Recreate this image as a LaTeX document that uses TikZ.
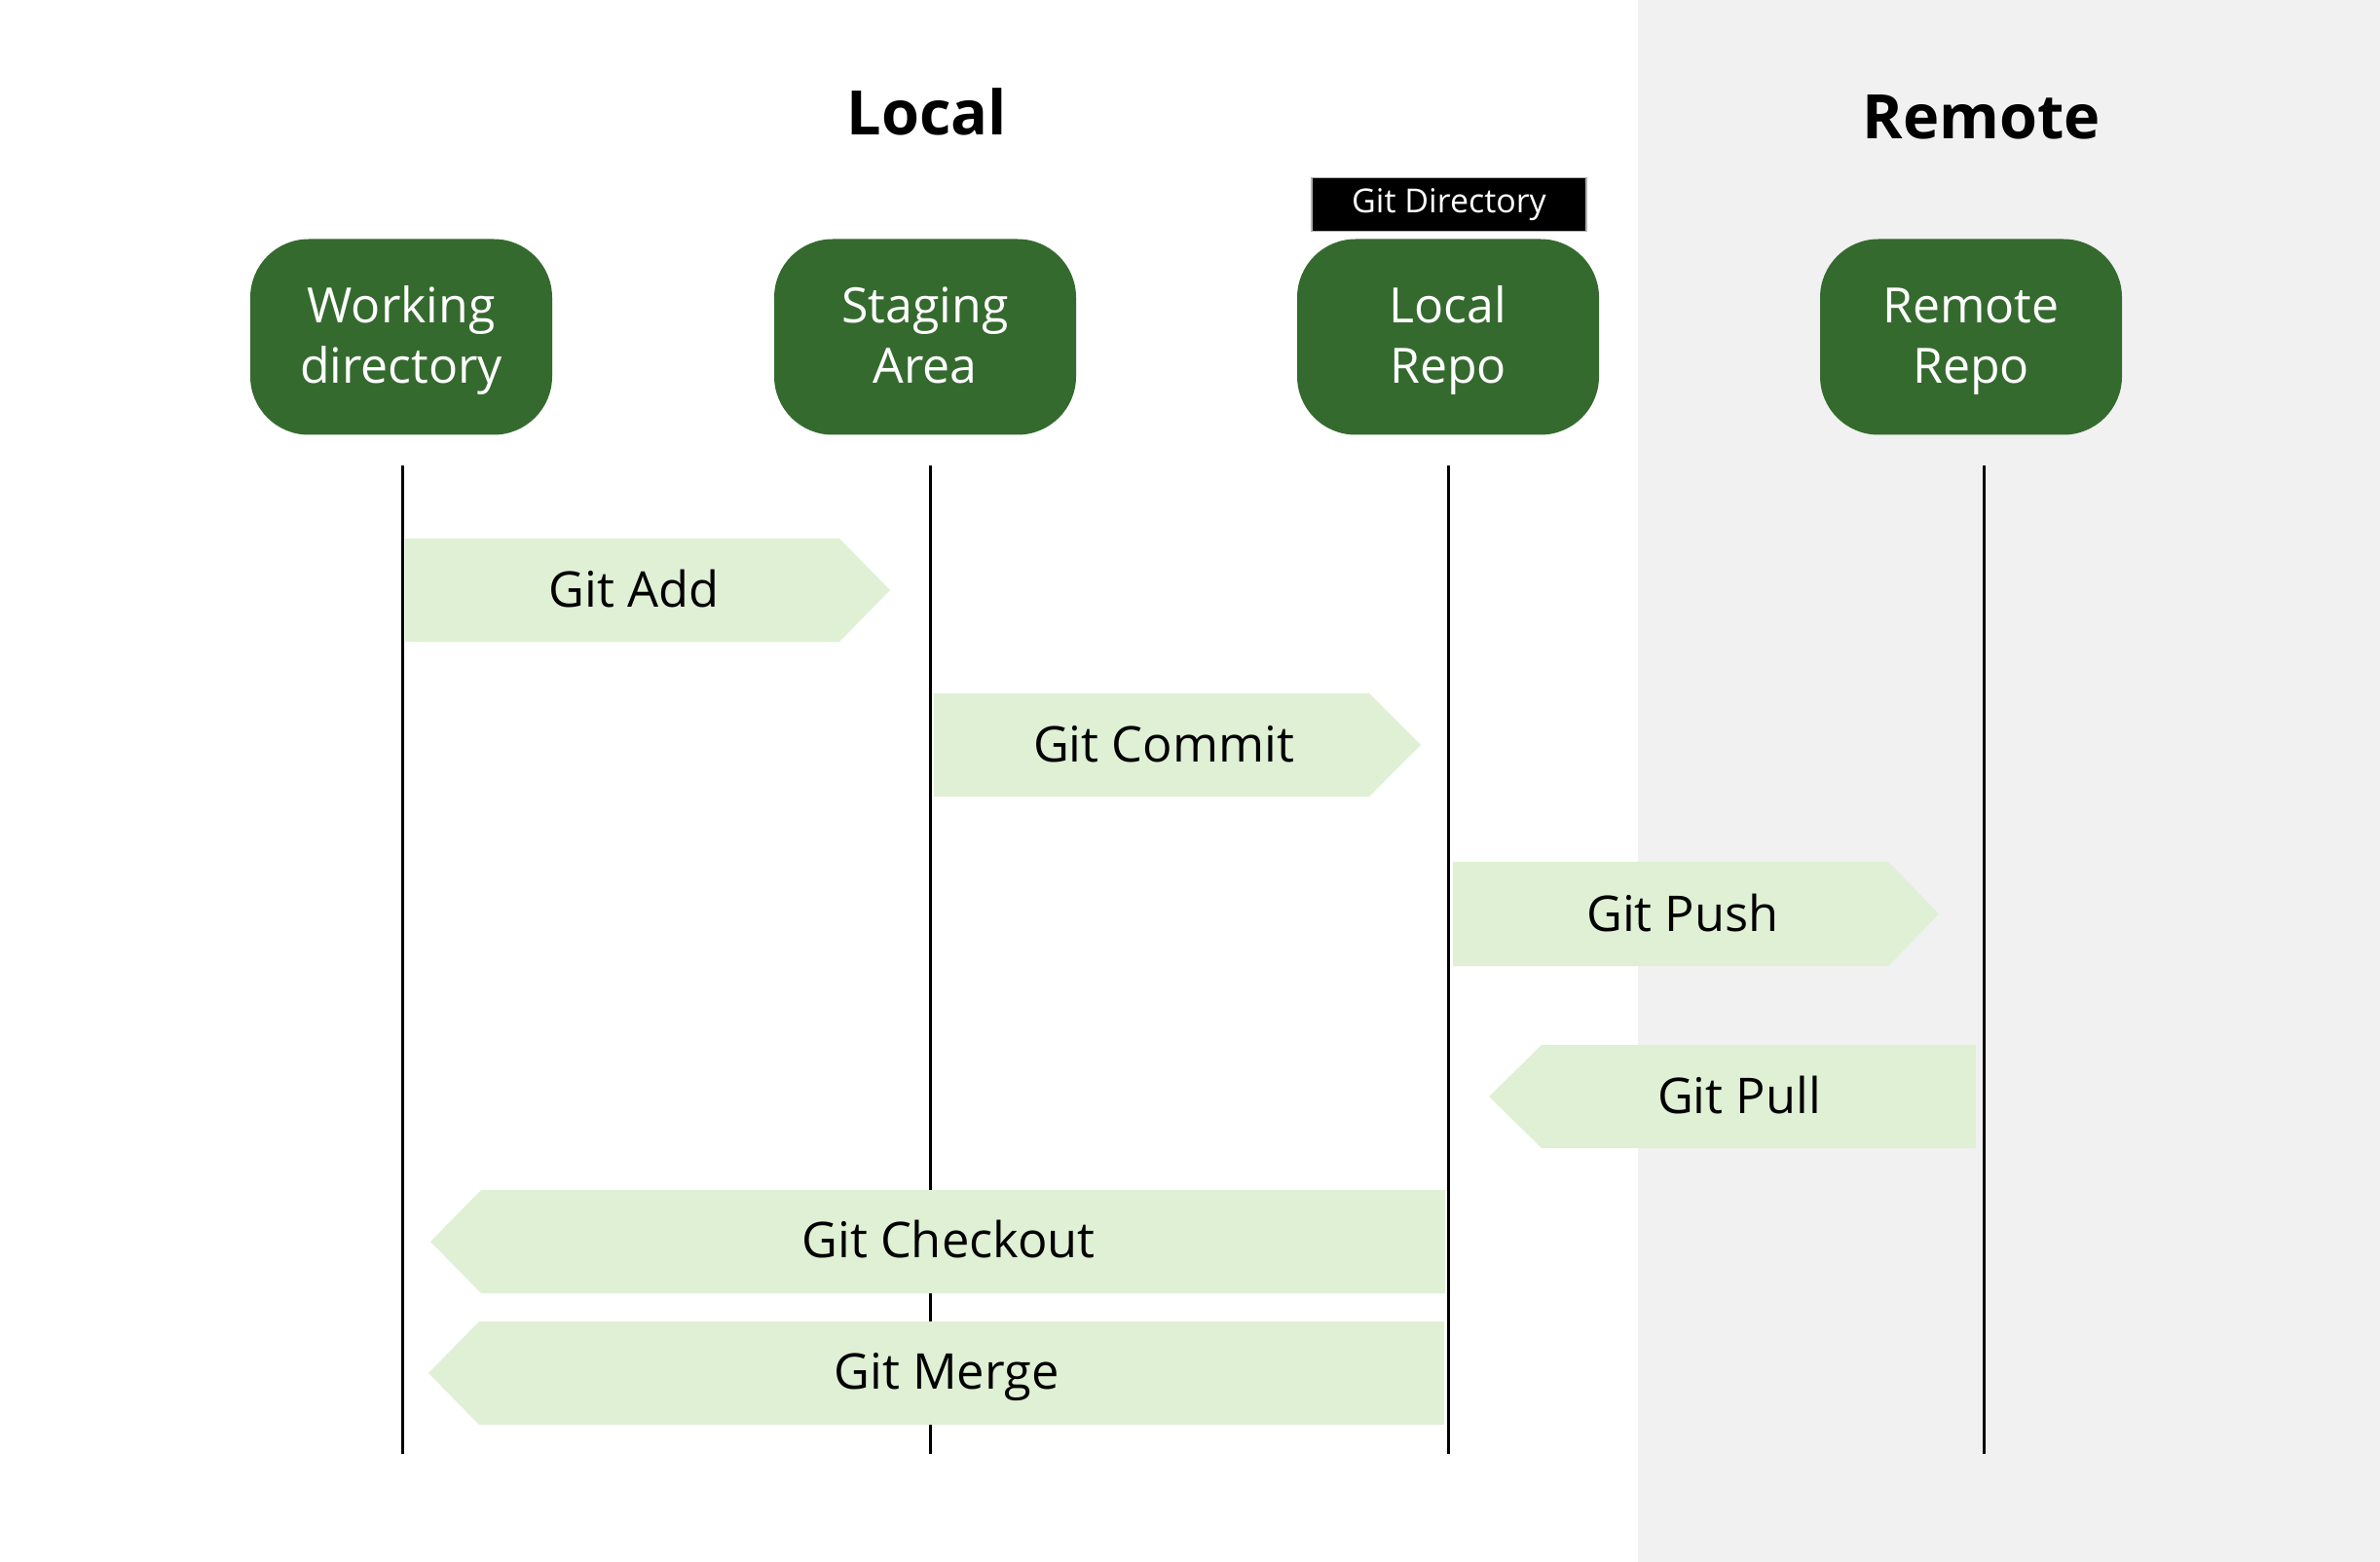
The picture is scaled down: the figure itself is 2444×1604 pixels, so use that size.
\documentclass[tikz,border=0pt]{standalone}
\usepackage{fontspec}
\setmainfont{Open Sans}
\definecolor{bggray}{HTML}{F1F1F1}
\definecolor{repogreen}{HTML}{356A2F}
\definecolor{arrowgreen}{HTML}{DFF0D5}
\newcommand{\toplinestrut}{\rule{0pt}{25.7pt}}
\tikzset{
  repo/.style={fill=repogreen, text=white, rounded corners=30pt, minimum width=155pt, minimum height=100.5pt, align=center, inner sep=0pt, font=\fontsize{25}{31}\selectfont},
  lifeline/.style={line width=1.5pt, black},
  cmdshape/.style={fill=arrowgreen},
  cmdtext/.style={anchor=base, font=\fontsize{25.3}{30}\selectfont, inner sep=0pt},
  title/.style={anchor=base, font=\fontsize{31.5}{36}\selectfont\bfseries, inner sep=0pt},
  gitdir/.style={fill=black, draw=gray!60, line width=0.6pt, text=white, minimum width=141pt, minimum height=27.5pt, inner sep=0pt, font=\fontsize{17}{20}\selectfont}
}
\begin{document}
\begin{tikzpicture}[x=0.5pt,y=-0.5pt]
\useasboundingbox (0,0) rectangle (2444,1604);
\fill[bggray] (1682,0) rectangle (2444,1604);

% titles
\node[title] (tlocal) at (952,139) {Local};
\node[title] (tremote) at (2035,143) {Remote};

% lifeline ends
\coordinate (wdA) at (413,478); \coordinate (wdB) at (413,1493);
\coordinate (saA) at (955,478); \coordinate (saB) at (955,1493);
\coordinate (lrA) at (1487,478); \coordinate (lrB) at (1487,1493);
\coordinate (rrA) at (2037,478); \coordinate (rrB) at (2037,1493);
\draw[lifeline] (wdA) -- (wdB);
\draw[lifeline] (saA) -- (saB);
\draw[lifeline] (lrA) -- (lrB);
\draw[lifeline] (rrA) -- (rrB);

% command arrows
\fill[cmdshape] (416,553) -- (862,553) -- (914,606) -- (862,659) -- (416,659) -- cycle;
\fill[cmdshape] (959,712) -- (1406,712) -- (1459,765) -- (1406,818) -- (959,818) -- cycle;
\fill[cmdshape] (1492,885) -- (1939,885) -- (1991,938.5) -- (1939,992) -- (1492,992) -- cycle;
\fill[cmdshape] (2029,1073) -- (1583,1073) -- (1529,1126) -- (1583,1179) -- (2029,1179) -- cycle;
\fill[cmdshape] (1484,1222) -- (494,1222) -- (442,1275) -- (494,1328) -- (1484,1328) -- cycle;
\fill[cmdshape] (1483,1357) -- (492,1357) -- (440,1410) -- (492,1463) -- (1483,1463) -- cycle;

\node[cmdtext] (add) at (651,623) {Git Add};
\node[cmdtext] (commit) at (1195,782) {Git Commit};
\node[cmdtext] (push) at (1728,956) {Git Push};
\node[cmdtext] (pull) at (1786,1143) {Git Pull};
\node[cmdtext] (checkout) at (974,1291) {Git Checkout};
\node[cmdtext] (merge) at (972,1426) {Git Merge};

% repos
\node[repo] (wd) at (412,346) {\toplinestrut Working\\\strut directory};
\node[repo] (sa) at (950,346) {\toplinestrut Staging\\\strut Area};
\node[repo] (lr) at (1487,346) {\toplinestrut Local\\\strut Repo};
\node[repo] (rr) at (2024,346) {\toplinestrut Remote\\\strut Repo};

\node[gitdir] (gd) at (1488,210) {Git Directory};
\end{tikzpicture}
\end{document}
